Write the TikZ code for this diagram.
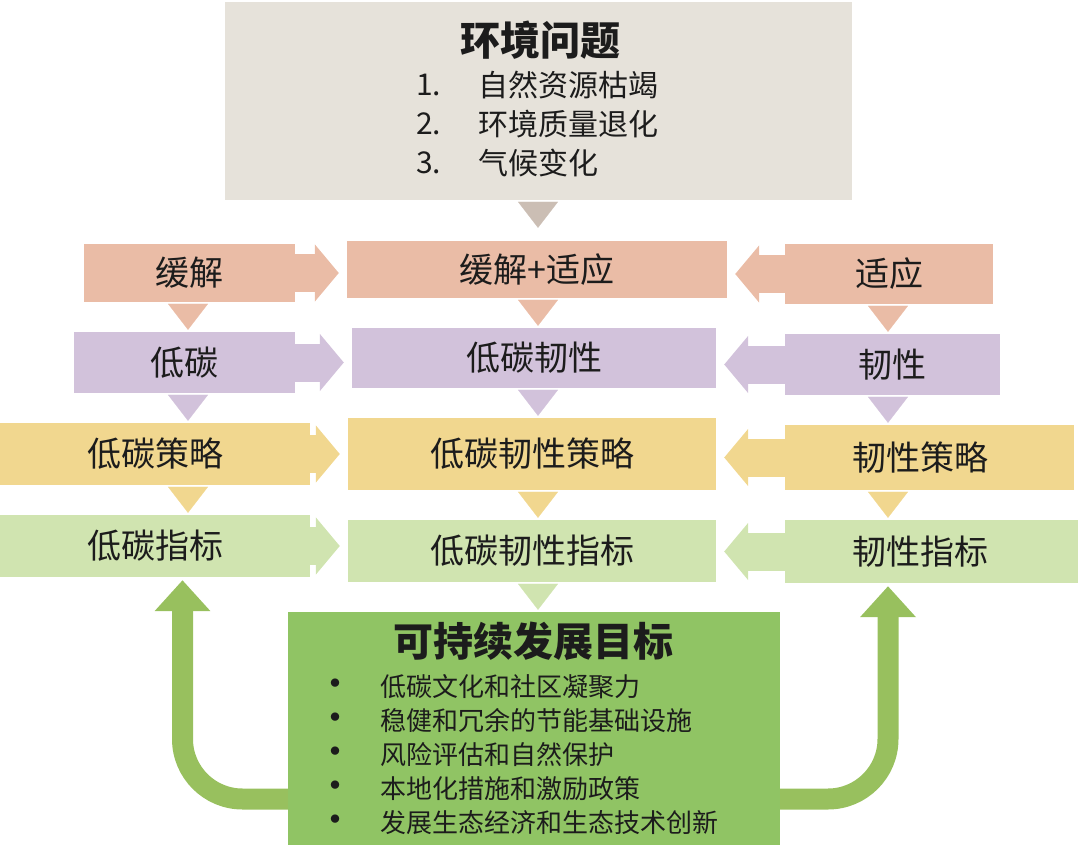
\documentclass[tikz,border=0pt]{standalone}
\usepackage{fontspec}
\setmainfont{Noto Sans CJK SC}
\usepackage{xcolor}
\definecolor{Stone}{RGB}{230, 226, 218}
\definecolor{StoneDark}{RGB}{203, 190, 180}
\definecolor{Salmon}{RGB}{234, 188, 166}
\definecolor{Lilac}{RGB}{210, 194, 219}
\definecolor{Straw}{RGB}{241, 215, 143}
\definecolor{Sprout}{RGB}{208, 228, 176}
\definecolor{Leaf}{RGB}{144, 196, 100}
\definecolor{LeafArrow}{RGB}{152, 192, 94}
\definecolor{Ink}{RGB}{28, 28, 28}
\usetikzlibrary{arrows.meta}

\begin{document}
\begin{tikzpicture}[x=1pt, y=-1pt,
    box/.style={rectangle, inner sep=0pt, text=Ink, font=\fontsize{34}{40}\selectfont},
    headline/.style={text=Ink, inner sep=0pt, font=\fontsize{40}{46}\selectfont\bfseries},
    item/.style={text=Ink, inner sep=0pt, anchor=west, font=\fontsize{30}{36}\selectfont},
    goalitem/.style={text=Ink, inner sep=0pt, anchor=west, font=\fontsize{26}{30}\selectfont},
    bullet/.style={text=Ink, inner sep=0pt, font=\fontsize{30}{30}\selectfont\bfseries},
    harrow/.style={line width=38pt, -{Triangle[width=56pt, length=24pt]}, shorten >=8pt},
    vtip/.style={line width=0.2pt, -{Triangle[width=40pt, length=26pt]}, shorten <=2pt, shorten >=2pt},
    uparrow/.style={line width=21pt, -{Triangle[width=54pt, length=31pt]}, rounded corners=60pt, LeafArrow, shorten >=3pt}
]
\useasboundingbox (0,0) rectangle (1080,848);

% column axes for the small arrows
\coordinate (lx) at (188,0);
\coordinate (mx) at (538,0);
\coordinate (rx) at (888,0);

% Problem box
\node[box, fill=Stone, minimum width=627pt, minimum height=198pt] (env) at (538.5,101) {};
\node[headline] (envtitle) at (540,40) {环境问题};
\foreach \n/\txt [count=\k] in {1/自然资源枯竭, 2/环境质量退化, 3/气候变化} {
    \node[item] (num\k) at (416,{46+39*\k}) {\n.};
    \node[item] (prob\k) at (478,{46+39*\k}) {\txt};
}

% Left column
\node[box, fill=Salmon, minimum width=211pt, minimum height=58pt] (mit) at (189.5,273) {缓解};
\node[box, fill=Lilac, minimum width=221pt, minimum height=61pt] (low) at (184.5,362.5) {低碳};
\node[box, fill=Straw, minimum width=310pt, minimum height=62pt] (lowstr) at (155,454) {低碳策略};
\node[box, fill=Sprout, minimum width=310pt, minimum height=62pt] (lowind) at (155,546) {低碳指标};

% Middle column
\node[box, fill=Salmon, minimum width=380pt, minimum height=57pt] (mitada) at (537,269.5) {缓解+适应};
\node[box, fill=Lilac, minimum width=364pt, minimum height=60pt] (lowres) at (534,358) {低碳韧性};
\node[box, fill=Straw, minimum width=368pt, minimum height=72pt] (lowresstr) at (532,454) {低碳韧性策略};
\node[box, fill=Sprout, minimum width=368pt, minimum height=62pt] (lowresind) at (532,551) {低碳韧性指标};

% Right column
\node[box, fill=Salmon, minimum width=208pt, minimum height=60pt] (ada) at (889,274) {适应};
\node[box, fill=Lilac, minimum width=215pt, minimum height=61pt] (res) at (892.5,364.5) {韧性};
\node[box, fill=Straw, minimum width=289pt, minimum height=65pt, text width=289pt, align=center] (resstr) at (929.5,457.5) {\hspace*{-18pt}韧性策略};
\node[box, fill=Sprout, minimum width=293pt, minimum height=63pt, text width=293pt, align=center] (resind) at (931.5,551.5) {\hspace*{-22pt}韧性指标};

% Goal box
\node[box, fill=Leaf, minimum width=492pt, minimum height=233pt] (goal) at (534,728.5) {};
\node[headline] (goaltitle) at (533,641) {可持续发展目标};
\foreach \txt [count=\k] in {低碳文化和社区凝聚力, 稳健和冗余的节能基础设施, 风险评估和自然保护, 本地化措施和激励政策, 发展生态经济和生态技术创新} {
    \node[bullet] (dot\k) at (335,{653+34*\k}) {•};
    \node[goalitem] (goal\k) at (380,{653+34*\k}) {\txt};
}

% Horizontal arrows into the middle column
\foreach \a/\b/\c in {mit/mitada/Salmon, low/lowres/Lilac, lowstr/lowresstr/Straw, lowind/lowresind/Sprout} {
    \draw[harrow, \c] (\a.east) -- (\a.east -| \b.west);
}
\foreach \a/\b/\c in {ada/mitada/Salmon, res/lowres/Lilac, resstr/lowresstr/Straw, resind/lowresind/Sprout} {
    \draw[harrow, \c] (\a.west) -- (\a.west -| \b.east);
}

% Small down arrows
\draw[vtip, StoneDark, shorten >=13pt] (env.south -| mx) -- (mitada.north -| mx);
\foreach \a/\b/\x/\c in {mit/low/lx/Salmon, low/lowstr/lx/Lilac, lowstr/lowind/lx/Straw,
                          mitada/lowres/mx/Salmon, lowres/lowresstr/mx/Lilac, lowresstr/lowresind/mx/Straw, lowresind/goal/mx/Sprout,
                          ada/res/rx/Salmon, res/resstr/rx/Lilac, resstr/resind/rx/Straw} {
    \draw[vtip, \c] (\a.south -| \x) -- (\b.north -| \x);
}

% Feedback arrows
\coordinate (gl) at ([yshift=-70.5pt]goal.west);
\coordinate (gr) at ([yshift=-70.5pt]goal.east);
\draw[uparrow] (gl) -| ([xshift=-5.5pt]lowind.south -| lx);
\draw[uparrow] (gr) -| (resind.south -| rx);

\end{tikzpicture}
\end{document}
